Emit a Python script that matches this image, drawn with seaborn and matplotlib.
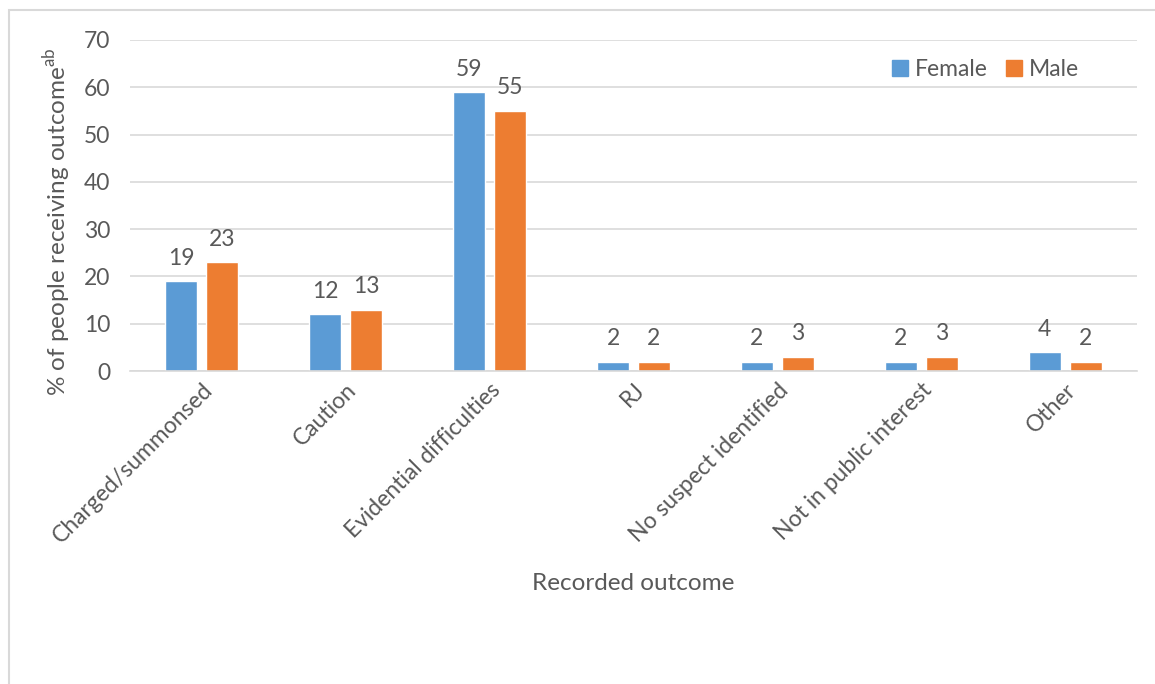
import matplotlib
matplotlib.use("Agg")
import matplotlib.pyplot as plt
import seaborn as sns
import pandas as pd
from matplotlib.patches import Rectangle
from matplotlib.lines import Line2D

categories = ["Charged/summonsed", "Caution", "Evidential difficulties", "RJ",
              "No suspect identified", "Not in public interest", "Other"]
female = [19, 12, 59, 2, 2, 2, 4]
male = [23, 13, 55, 2, 3, 3, 2]
series = ["Female", "Male"]
colors = ["#5B9BD5", "#ED7D31"]
yticks = [0, 10, 20, 30, 40, 50, 60, 70]

df = pd.DataFrame({
    "outcome": categories * 2,
    "value": female + male,
    "sex": ["Female"] * len(categories) + ["Male"] * len(categories),
})

sns.set_theme(style="white")
plt.rcParams["font.family"] = ["Lato", "DejaVu Sans"]
textc = "#595959"

fig = plt.figure(figsize=(11.55, 6.84), dpi=100)
ax = fig.add_axes([130 / 1155, 1 - 371 / 684, (1137 - 130) / 1155, (371 - 40) / 684])

sns.barplot(data=df, x="outcome", y="value", hue="sex", hue_order=series,
            palette=colors, width=0.57, gap=0.22, ax=ax, saturation=1,
            legend=False, order=categories)

ax.set_ylim(0, 70)
ax.set_yticks(yticks)
ax.set_xlim(-0.5, len(categories) - 0.5)
ax.yaxis.grid(True, color="#D9D9D9", linewidth=1.2)
ax.set_axisbelow(True)
for s in ["top", "right", "left"]:
    ax.spines[s].set_visible(False)
ax.spines["bottom"].set_color("#D9D9D9")
ax.spines["bottom"].set_linewidth(1.2)
ax.tick_params(axis="both", length=0, colors=textc, labelsize=16.5)
ax.tick_params(axis="y", pad=14)
ax.tick_params(axis="x", pad=6)
ax.set_xticks(range(len(categories)))
ax.set_xticklabels(categories, rotation=45, ha="right", rotation_mode="anchor")

for cont in ax.containers:
    ax.bar_label(cont, labels=[f"{v:.0f}" for v in cont.datavalues],
                 padding=9, fontsize=16.5, color=textc)

ax.set_ylabel(r"% of people receiving outcome$^{\mathregular{ab}}$", fontsize=17.5,
              color=textc)
ax.yaxis.set_label_coords(-0.057, 0.45)
ax.set_xlabel("Recorded outcome", fontsize=17.5, color=textc)
ax.xaxis.set_label_coords(0.5, -0.61)

handles = [Line2D([0], [0], marker="s", linestyle="", markersize=12,
                  markerfacecolor=c, markeredgecolor=c) for c in colors]
ax.legend(handles, series, loc="upper right", bbox_to_anchor=(0.963, 1.005),
          frameon=False, ncol=2, fontsize=16.5, labelcolor=textc,
          handlelength=0.7, handletextpad=0.3, columnspacing=0.8)

fig.patches.append(Rectangle((9 / 1155, -0.1), 1.2, 1 - 10 / 684 + 0.1,
                             transform=fig.transFigure, fill=False,
                             edgecolor="#D9D9D9", linewidth=1.5))

fig.savefig("out.png", dpi=100)
